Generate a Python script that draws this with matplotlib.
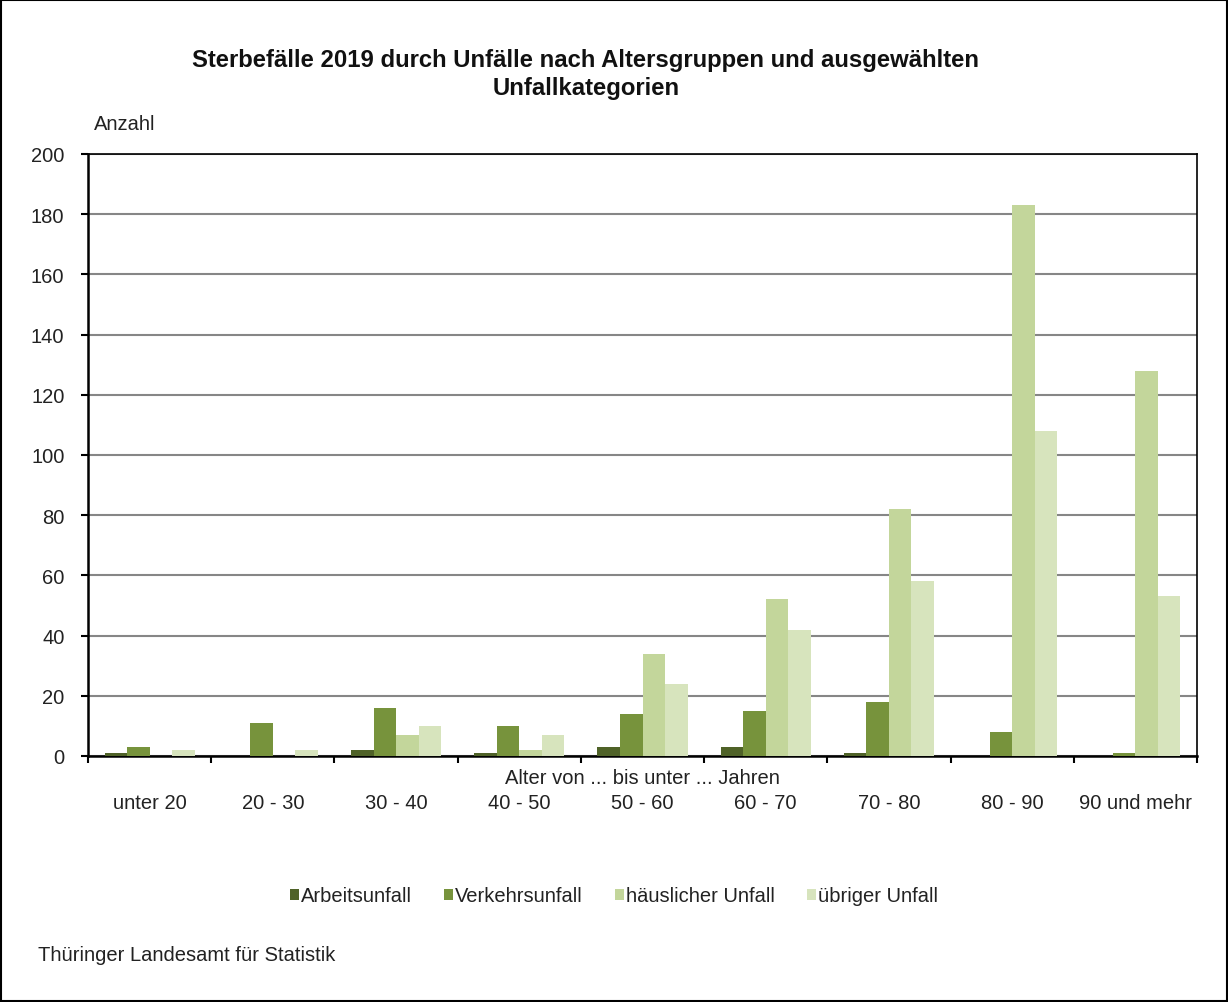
import matplotlib
matplotlib.use("Agg")
import matplotlib.pyplot as plt
import numpy as np
from matplotlib.patches import Rectangle

plt.rcParams['font.family'] = ['Liberation Sans', 'DejaVu Sans']

categories = ["unter 20", "20 - 30", "30 - 40", "40 - 50", "50 - 60",
              "60 - 70", "70 - 80", "80 - 90", "90 und mehr"]
series_names = ["Arbeitsunfall", "Verkehrsunfall", "häuslicher Unfall", "übriger Unfall"]
arbeitsunfall = [1, 0, 2, 1, 3, 3, 1, 0, 0]
verkehrsunfall = [3, 11, 16, 10, 14, 15, 18, 8, 1]
haeuslich = [0, 0, 7, 2, 34, 52, 82, 183, 128]
uebriger = [2, 2, 10, 7, 24, 42, 58, 108, 53]
yticks = [0, 20, 40, 60, 80, 100, 120, 140, 160, 180, 200]
colors = ["#4f6228", "#77933c", "#c3d69b", "#d7e4bd"]

FS = 14.5
fig = plt.figure(figsize=(12.28, 10.03), dpi=100)
ax = fig.add_axes([88/1228, 1-757/1003, (1197-88)/1228, (757-155)/1003])

x = np.arange(len(categories))
w = 0.183
data = [arbeitsunfall, verkehrsunfall, haeuslich, uebriger]
handles = []
for i, (vals, c, name) in enumerate(zip(data, colors, series_names)):
    b = ax.bar(x + (i - 1.5) * w, vals, width=w, color=c, label=name, zorder=3)
    handles.append(b)

ax.set_xlim(-0.5, len(categories) - 0.5)
ax.set_ylim(0, 200)
ax.set_yticks(yticks)
ax.set_yticklabels([str(v) for v in yticks], fontsize=FS, color="#222222")
ax.yaxis.grid(True, color="#868686", linewidth=1.5, zorder=0)
ax.set_axisbelow(True)
for s in ["left", "bottom"]:
    ax.spines[s].set_color("black")
    ax.spines[s].set_linewidth(1.8)
for s in ["top", "right"]:
    ax.spines[s].set_color("black")
    ax.spines[s].set_linewidth(1.2)
ax.tick_params(axis="y", direction="out", length=5, width=1.5, pad=12)

# category ticks between groups
ax.set_xticks(np.arange(len(categories) + 1) - 0.5)
ax.set_xticklabels([])
ax.tick_params(axis="x", direction="out", length=5, width=1.5)
for xi, lab in zip(x, categories):
    ax.text(xi, -0.078, lab, transform=ax.get_xaxis_transform(),
            ha="center", va="center", fontsize=FS, color="#222222")

ax.text(0.5, -0.036, "Alter von ... bis unter ... Jahren", transform=ax.transAxes,
        ha="center", va="center", fontsize=FS, color="#222222")

fig.text(586/1228, 1-61/1003, "Sterbefälle 2019 durch Unfälle nach Altersgruppen und ausgewählten",
         ha="center", va="center", fontsize=17.2, fontweight="bold", color="#111111")
fig.text(586/1228, 1-89/1003, "Unfallkategorien",
         ha="center", va="center", fontsize=17.2, fontweight="bold", color="#111111")
fig.text(94/1228, 1-125/1003, "Anzahl", ha="left", va="center", fontsize=FS, color="#222222")
fig.text(38/1228, 1-956/1003, "Thüringer Landesamt für Statistik", ha="left", va="center",
         fontsize=FS, color="#222222")

leg = fig.legend(handles=handles, labels=series_names, loc="center",
                 bbox_to_anchor=(614/1228, 1-897/1003), ncol=4, frameon=False,
                 fontsize=FS, handlelength=0.45, handleheight=0.45,
                 handletextpad=0.1, columnspacing=1.6)
for t in leg.get_texts():
    t.set_color("#222222")

fig.patches.append(Rectangle((0.001, 0.001), 0.998, 0.998, transform=fig.transFigure,
                             fill=False, edgecolor="black", linewidth=1.5))

fig.savefig("out.png", dpi=100)
